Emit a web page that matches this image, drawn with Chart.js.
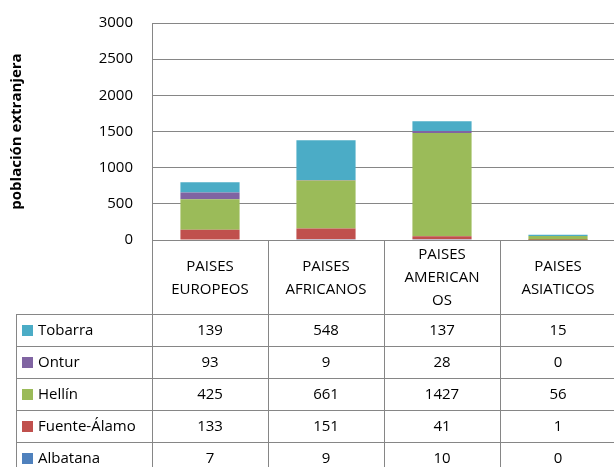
<!DOCTYPE html>
<html>
<head>
<meta charset="utf-8">
<script src="https://cdn.jsdelivr.net/npm/chart.js@4/dist/chart.umd.min.js"></script>
<style>
  html, body { margin: 0; padding: 0; background: #fff; overflow: hidden; width: 614px; height: 467px; }
  #wrap { width: 620px; height: 467px; }
</style>
</head>
<body>
<div id="wrap"><canvas id="c" width="620" height="467"></canvas></div>
<script>
// ---- data ----
const categories = [["PAISES", "EUROPEOS"], ["PAISES", "AFRICANOS"], ["PAISES", "AMERICAN", "OS"], ["PAISES", "ASIATICOS"]];
const seriesNames = ["Albatana", "Fuente-Álamo", "Hellín", "Ontur", "Tobarra"];
const albatana    = [7, 9, 10, 0];
const fuenteAlamo = [133, 151, 41, 1];
const hellin      = [425, 661, 1427, 56];
const ontur       = [93, 9, 28, 0];
const tobarra     = [139, 548, 137, 15];
const yTicks      = [0, 500, 1000, 1500, 2000, 2500, 3000];
const yTitle      = "población extranjera";

// ---- styles ----
const colors = ["#4F81BD", "#C0504D", "#9BBB59", "#8064A2", "#4BACC6"];
const seriesValues = [albatana, fuenteAlamo, hellin, ontur, tobarra];
const FONT = "'Open Sans', 'Noto Sans', sans-serif";
const LINE = "#868686";

const datasets = seriesNames.map((n, i) => ({
  label: n,
  data: seriesValues[i],
  backgroundColor: colors[i],
  borderWidth: 0,
  barPercentage: 0.51,
  categoryPercentage: 1.0
}));

const tablePlugin = {
  id: 'dataTable',
  afterDraw(chart) {
    const ctx = chart.ctx;
    const xs = chart.scales.x;
    const area = chart.chartArea;
    const n = categories.length;
    const step = xs.getPixelForValue(1) - xs.getPixelForValue(0);
    const bounds = [];
    for (let i = 0; i <= n; i++) bounds.push(xs.getPixelForValue(0) - step / 2 + i * step);
    const top = area.bottom;           // 240
    const headerBottom = top + 74;     // 314
    const rowH = 32;
    const tableLeft = 16;
    const rowsOrder = [4, 3, 2, 1, 0]; // Tobarra first
    const tableBottom = headerBottom + rowH * rowsOrder.length;
    const right = chart.width;

    ctx.save();
    ctx.strokeStyle = LINE;
    ctx.lineWidth = 1;
    const hline = (x1, x2, y) => { ctx.beginPath(); ctx.moveTo(x1, Math.round(y) + 0.5); ctx.lineTo(x2, Math.round(y) + 0.5); ctx.stroke(); };
    const vline = (x, y1, y2) => { ctx.beginPath(); ctx.moveTo(Math.round(x) + 0.5, y1); ctx.lineTo(Math.round(x) + 0.5, y2); ctx.stroke(); };

    hline(bounds[0], right, top);
    for (let r = 0; r <= rowsOrder.length; r++) hline(tableLeft, right, headerBottom + r * rowH);
    vline(tableLeft, headerBottom, tableBottom);
    bounds.forEach(b => vline(b, top, tableBottom));

    ctx.fillStyle = "#000";
    ctx.font = "15px " + FONT;
    ctx.textAlign = "center";
    ctx.textBaseline = "middle";
    // headers
    categories.forEach((lines, i) => {
      const cx = (bounds[i] + bounds[i + 1]) / 2;
      const cy = (top + headerBottom) / 2 + 1;
      const lh = 23;
      lines.forEach((t, k) => {
        ctx.fillText(t, cx, cy + (k - (lines.length - 1) / 2) * lh);
      });
    });
    // rows
    rowsOrder.forEach((s, r) => {
      const cy = headerBottom + r * rowH + rowH / 2 + 1;
      ctx.fillStyle = colors[s];
      ctx.fillRect(tableLeft + 6, cy - 6, 11, 11);
      ctx.fillStyle = "#000";
      ctx.textAlign = "left";
      ctx.fillText(seriesNames[s], tableLeft + 22, cy);
      ctx.textAlign = "center";
      seriesValues[s].forEach((v, i) => {
        ctx.fillText(String(v), (bounds[i] + bounds[i + 1]) / 2, cy);
      });
    });
    ctx.restore();
  }
};

new Chart(document.getElementById('c'), {
  type: 'bar',
  data: { labels: categories.map(c => c.join(" ")), datasets },
  options: {
    responsive: false,
    animation: false,
    layout: { padding: { top: 23, bottom: 227, left: 0, right: 4 } },
    plugins: { legend: { display: false }, tooltip: { enabled: false } },
    scales: {
      x: { display: false, stacked: true },
      y: {
        stacked: true,
        min: 0, max: 3000,
        afterBuildTicks(scale) { scale.ticks = yTicks.map(v => ({ value: v })); },
        afterFit(scale) { scale.width = 152; scale.paddingTop = 0; scale.paddingBottom = 0; },
        ticks: { font: { size: 15, family: FONT }, color: "#000", padding: 19, callback: v => String(v) },
        grid: { color: LINE, lineWidth: 1, drawTicks: false },
        border: { display: true, color: LINE, width: 1 },
        title: { display: true, text: yTitle, color: "#000", font: { size: 15, weight: 'bold', family: FONT }, padding: { top: 8, bottom: 0 } }
      }
    }
  },
  plugins: [tablePlugin]
});
</script>
</body>
</html>
